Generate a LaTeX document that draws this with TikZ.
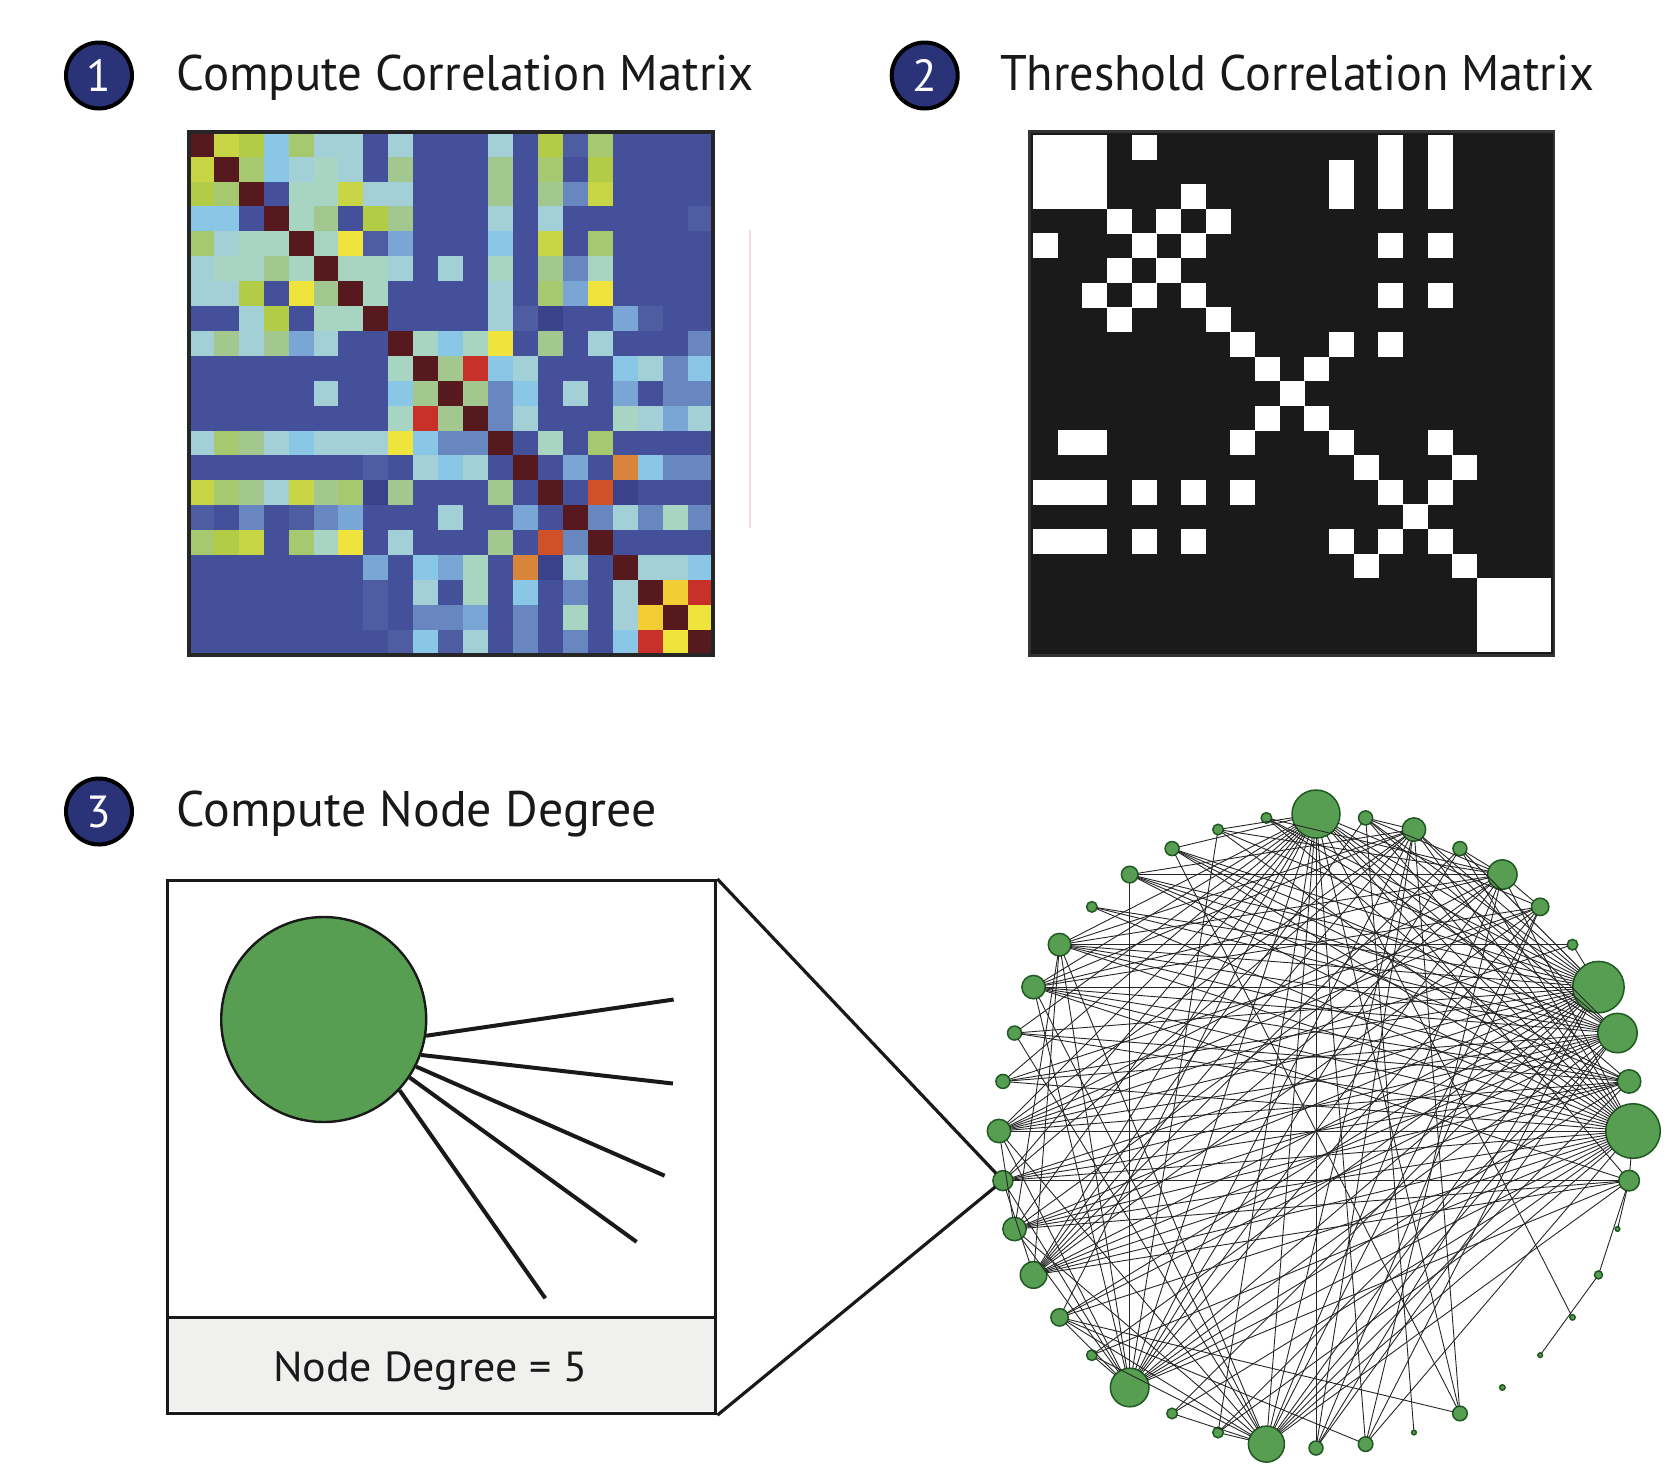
\documentclass[tikz,border=0pt]{standalone}
\usepackage{fontspec}
\usepackage{graphicx}
\setmainfont{PT Sans}
\usetikzlibrary{calc}
\definecolor{navy}{HTML}{2A3278}
\definecolor{gfill}{HTML}{589E52}
\definecolor{gdraw}{HTML}{1E5A22}
\definecolor{boxgray}{HTML}{F0F0EE}
\definecolor{thblack}{HTML}{1A1A1A}
\definecolor{faint}{HTML}{F2DCE0}
\definecolor{cD}{HTML}{561A1E}
\definecolor{cY}{HTML}{EEE43C}
\definecolor{cYO}{HTML}{F2CE34}
\definecolor{cYG}{HTML}{C8D646}
\definecolor{cYH}{HTML}{B2CC48}
\definecolor{cG}{HTML}{A6C86E}
\definecolor{cGP}{HTML}{A2C890}
\definecolor{cL}{HTML}{A2D0D6}
\definecolor{cLG}{HTML}{A8D4C2}
\definecolor{cC}{HTML}{8AC6E6}
\definecolor{cB}{HTML}{44509A}
\definecolor{cBL}{HTML}{4E5CA2}
\definecolor{cBD}{HTML}{3B428C}
\definecolor{cM}{HTML}{6886C0}
\definecolor{cMS}{HTML}{7AA6D6}
\definecolor{cR}{HTML}{C8302A}
\definecolor{cO}{HTML}{D8843A}
\definecolor{cRO}{HTML}{D05028}
\begin{document}
\begin{tikzpicture}[x=0.5pt,y=-0.5pt,
  numcirc/.style={circle, fill=navy, draw=black, line width=2pt, minimum size=33pt, inner sep=0pt, text=white, font=\fontsize{22.5}{24}\selectfont},
  title/.style={anchor=base west, inner sep=0pt, font=\fontsize{25}{30}\selectfont, text=black!90},
  gnode/.style={circle, fill=gfill, draw=gdraw, line width=0.75pt, inner sep=0pt, outer sep=0pt},
  netedge/.style={line width=0.45pt, black!85},
  spoke/.style={line width=2pt, black!90},
  callout/.style={line width=1.6pt, black!90}]
\useasboundingbox (0,0) rectangle (1680,1480);

% headings
\node[numcirc] (c1) at (99,75.5) {1};
\node[title] (t1) at (176.5,90) {\resizebox{288.5pt}{\height}{Compute Correlation Matrix}};
\node[numcirc] (c2) at (924.7,75.5) {2};
\node[title] (t2) at (999.7,90) {\resizebox{297pt}{\height}{Threshold Correlation Matrix}};
\node[numcirc] (c3) at (99,811.5) {3};
\node[title] (t3) at (176.5,826) {\resizebox{240pt}{\height}{Compute Node Degree}};

% correlation matrix
\foreach \row [count=\r from 0] in {
 {cD,cYG,cYH,cC,cG,cL,cL,cB,cL,cB,cB,cB,cL,cB,cYH,cBL,cG,cB,cB,cB,cB},
 {cYG,cD,cG,cC,cL,cLG,cL,cB,cGP,cB,cB,cB,cGP,cB,cG,cB,cYH,cB,cB,cB,cB},
 {cYH,cG,cD,cB,cLG,cLG,cYG,cL,cL,cB,cB,cB,cGP,cB,cGP,cM,cYG,cB,cB,cB,cB},
 {cC,cC,cB,cD,cLG,cGP,cB,cYH,cGP,cB,cB,cB,cL,cB,cL,cB,cB,cB,cB,cB,cBL},
 {cG,cL,cLG,cLG,cD,cLG,cY,cBL,cMS,cB,cB,cB,cC,cB,cYG,cB,cG,cB,cB,cB,cB},
 {cL,cLG,cLG,cGP,cLG,cD,cLG,cLG,cL,cB,cL,cB,cLG,cB,cGP,cM,cLG,cB,cB,cB,cB},
 {cL,cL,cYH,cB,cY,cGP,cD,cLG,cB,cB,cB,cB,cL,cB,cG,cMS,cY,cB,cB,cB,cB},
 {cB,cB,cL,cYH,cB,cLG,cLG,cD,cB,cB,cB,cB,cL,cBL,cBD,cB,cB,cMS,cBL,cB,cB},
 {cL,cGP,cL,cGP,cMS,cL,cB,cB,cD,cLG,cC,cLG,cY,cB,cGP,cB,cL,cB,cB,cB,cM},
 {cB,cB,cB,cB,cB,cB,cB,cB,cLG,cD,cGP,cR,cC,cL,cB,cB,cB,cC,cL,cM,cC},
 {cB,cB,cB,cB,cB,cL,cB,cB,cC,cGP,cD,cGP,cM,cC,cB,cL,cB,cMS,cB,cM,cM},
 {cB,cB,cB,cB,cB,cB,cB,cB,cLG,cR,cGP,cD,cM,cL,cB,cB,cB,cLG,cL,cMS,cL},
 {cL,cG,cGP,cL,cC,cL,cL,cL,cY,cC,cM,cM,cD,cB,cLG,cB,cG,cB,cB,cB,cB},
 {cB,cB,cB,cB,cB,cB,cB,cBL,cB,cL,cC,cL,cB,cD,cB,cMS,cB,cO,cC,cM,cM},
 {cYG,cG,cGP,cL,cYG,cGP,cG,cBD,cGP,cB,cB,cB,cGP,cB,cD,cB,cRO,cBD,cB,cB,cB},
 {cBL,cB,cM,cB,cBL,cM,cMS,cB,cB,cB,cL,cB,cB,cMS,cB,cD,cM,cL,cM,cLG,cM},
 {cG,cYH,cYG,cB,cG,cLG,cY,cB,cL,cB,cB,cB,cGP,cB,cRO,cM,cD,cB,cB,cB,cB},
 {cB,cB,cB,cB,cB,cB,cB,cMS,cB,cC,cMS,cLG,cB,cO,cBD,cL,cB,cD,cL,cL,cC},
 {cB,cB,cB,cB,cB,cB,cB,cBL,cB,cL,cB,cLG,cB,cC,cB,cM,cB,cL,cD,cYO,cR},
 {cB,cB,cB,cB,cB,cB,cB,cBL,cB,cM,cM,cMS,cB,cM,cB,cLG,cB,cL,cYO,cD,cY},
 {cB,cB,cB,cB,cB,cB,cB,cB,cBL,cC,cBL,cL,cB,cM,cB,cM,cB,cC,cR,cY,cD}}
 {\foreach \c [count=\j from 0] in \row
   {\fill[fill=\c] (188.7+24.96*\j,131.7+24.9*\r) rectangle ++(25.2,25.1);}}
\draw[line width=2pt, black!85] (188.7,131.7) rectangle (712.9,654.7);

% threshold matrix
\fill[thblack] (1029.5,131.5) rectangle (1554,655.5);
\foreach \r/\c in {0/0,0/1,0/2,0/4,0/14,0/16,
 1/0,1/1,1/2,1/12,1/14,1/16,
 2/0,2/1,2/2,2/6,2/12,2/14,2/16,
 3/3,3/5,3/7,
 4/0,4/4,4/6,4/14,4/16,
 5/3,5/5,
 6/2,6/4,6/6,6/14,6/16,
 7/3,7/7,
 8/8,8/12,8/14,
 9/9,9/11,
 10/10,
 11/9,11/11,
 12/1,12/2,12/8,12/12,12/16,
 13/13,13/17,
 14/0,14/1,14/2,14/4,14/6,14/8,14/14,14/16,
 15/15,
 16/0,16/1,16/2,16/4,16/6,16/12,16/14,16/16,
 17/13,17/17,
 18/18,18/19,18/20,19/18,19/19,19/20,20/18,20/19,20/20}
 {\fill[white] (1033+24.67*\c,135+24.62*\r) rectangle ++(24.9,24.85);}
\draw[line width=1.2pt, black!80] (1029.5,131.5) rectangle (1554,655.5);

% faint artefact line
\draw[faint, line width=0.6pt] (750,230) -- (750,528);

% network nodes
\foreach \k/\s in {1/24,2/5.3,3/5.3,4/7,5/8.3,6/5.3,7/11.3,8/11.7,9/7,10/7,
 11/11.7,12/10,13/11.7,14/13.3,15/8.7,16/5.3,17/19.3,18/5.3,19/5.3,20/18,
 21/7,22/7.3,23/2.3,24/7.3,25/2.7,26/2.3,27/2.7,28/4,29/2.3,30/10.3,
 31/27.3,32/11.7,33/19.7,34/25.7,35/5.3,36/8.7,37/14.7,38/7,39/11.7,40/7}
 {\node[gnode, minimum size=\s pt] (n\k) at ({1316+317*cos(90+9*(\k-1))},{1131-317*sin(90+9*(\k-1))}) {};}

% network edges
\foreach \a/\b in {1/3,1/4,1/7,1/8,1/9,1/10,1/11,1/12,1/13,1/14,1/15,1/17,1/19,1/20,1/21,1/22,1/24,1/27,1/30,1/31,1/32,1/33,1/34,1/36,
 31/2,31/3,31/4,31/5,31/6,31/7,31/8,31/9,31/10,31/11,31/12,31/13,31/14,31/15,31/16,31/17,31/18,31/19,31/20,31/22,31/30,31/37,31/38,31/39,31/40,
 34/2,34/3,34/4,34/5,34/6,34/7,34/8,34/9,34/10,34/11,34/12,34/13,34/14,34/15,34/16,34/17,34/18,34/20,34/21,34/22,34/35,34/38,34/39,34/40,
 33/2,33/4,33/5,33/6,33/7,33/8,33/10,33/11,33/12,33/13,33/14,33/15,33/17,33/19,33/20,33/21,33/39,33/40,
 17/3,17/5,17/7,17/8,17/11,17/12,17/13,17/15,17/16,17/30,17/32,17/36,17/37,17/38,17/39,
 20/7,20/8,20/9,20/11,20/13,20/15,20/16,20/18,20/19,20/30,20/32,20/36,20/37,20/39,
 37/2,37/3,37/5,37/7,37/8,37/11,37/13,37/14,37/22,37/36,37/38,37/40,
 4/32,5/32,5/39,7/32,7/39,7/14,7/13,8/32,8/39,8/36,8/30,9/32,10/36,11/32,11/39,11/13,11/36,
 12/32,12/30,12/39,12/14,13/32,13/30,14/32,14/30,14/36,14/39,14/38,14/40,15/24,15/22,
 21/36,21/39,23/40,24/39,24/4,26/28,28/30,29/30,35/7,35/11,40/39}
 {\draw[netedge] (n\a) -- (n\b);}

% zoom box
\node[fill=boxgray, minimum width=274pt, minimum height=46.6pt, anchor=south west, inner sep=0pt] (lblbox) at (166,1411.7) {};
\node[draw=black!90, line width=1.7pt, minimum width=274pt, minimum height=266.35pt, anchor=north west, inner sep=0pt] (zoombox) at (166,879) {};
\draw[line width=1.7pt, black!90] (lblbox.north west) -- (lblbox.north east);
\node[anchor=base west, inner sep=0pt, font=\fontsize{21}{24}\selectfont, text=black!90] (deg) at (272.7,1381) {\resizebox{157pt}{\height}{Node Degree = 5}};

\node[circle, fill=gfill, draw=black!90, line width=1.2pt, minimum size=102.5pt, inner sep=0pt] (bigc) at (323.7,1019.5) {};
\coordinate (e1) at (673.6,999.5);
\coordinate (e2) at (672.9,1083.5);
\coordinate (e3) at (664.6,1175.7);
\coordinate (e4) at (636.6,1241.9);
\coordinate (e5) at (545.3,1298.3);
\draw[spoke] (bigc.-9.4) -- (e1);
\draw[spoke] (bigc.-20.2) -- (e2);
\draw[spoke] (bigc.-27.3) -- (e3);
\draw[spoke] (bigc.-34.7) -- (e4);
\draw[spoke] (bigc.-43.4) -- (e5);

\draw[callout] (zoombox.north east) -- (n12);
\draw[callout] (zoombox.south east) -- (n12);
\end{tikzpicture}
\end{document}
